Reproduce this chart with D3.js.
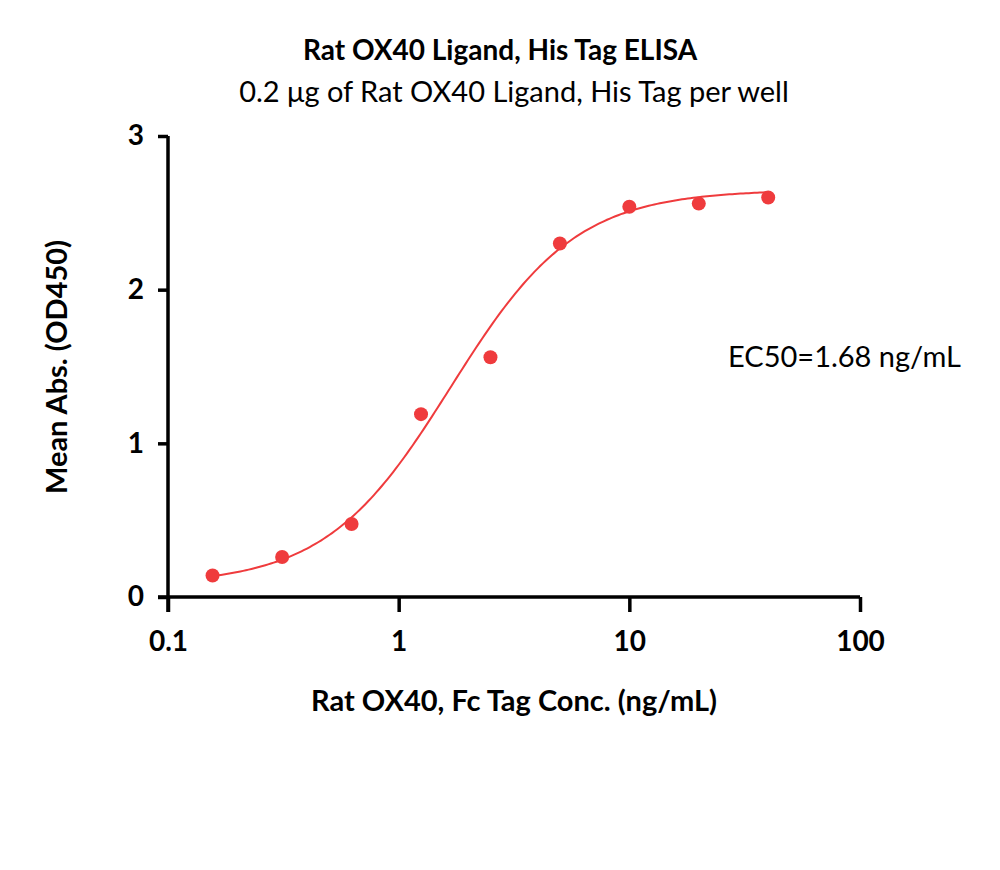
<!DOCTYPE html>
<html>
<head>
<meta charset="utf-8">
<script src="https://cdn.jsdelivr.net/npm/d3@7"></script>
<style>
  body { margin: 0; background: #fff; }
  svg text { font-family: Lato, "Open Sans", sans-serif; fill: #000; }
</style>
</head>
<body>
<div id="chart"></div>
<script>
// data
const conc = [0.156, 0.3125, 0.625, 1.25, 2.5, 5, 10, 20, 40];
const absorbance = [0.14, 0.26, 0.475, 1.19, 1.56, 2.30, 2.54, 2.56, 2.60];
const xTicks = [0.1, 1, 10, 100];
const yTicks = [0, 1, 2, 3];

// 4PL fit parameters
const fitBottom = 0.08;
const fitTop = 2.65;
const ec50 = 1.68;
const hill = 1.6;

const width = 1000, height = 870;
const red = "#ef3b3d";

const svg = d3.select("#chart").append("svg")
    .attr("width", width)
    .attr("height", height);

const x = d3.scaleLog().domain([0.1, 100]).range([168, 860]);
const y = d3.scaleLinear().domain([0, 3]).range([597, 136]);

// titles
svg.append("text").attr("x", 500).attr("y", 60).attr("text-anchor", "middle")
    .attr("font-size", 28).attr("font-weight", "bold").text("Rat OX40 Ligand, His Tag ELISA");
svg.append("text").attr("x", 514).attr("y", 102).attr("text-anchor", "middle")
    .attr("font-size", 29).text("0.2 μg of Rat OX40 Ligand, His Tag per well");

// y axis
const yAxis = d3.axisLeft(y).tickValues(yTicks).tickSize(10).tickPadding(14).tickFormat(d3.format("d"));
const yG = svg.append("g").attr("transform", "translate(168,0)").call(yAxis);
yG.select(".domain").attr("d", "M0,136V612");

// x axis
const xAxis = d3.axisBottom(x).tickValues(xTicks).tickSize(15).tickPadding(19).tickFormat(d => String(d));
const xG = svg.append("g").attr("transform", "translate(0,597)").call(xAxis);
xG.select(".domain").attr("d", "M158,0H860");

[yG, xG].forEach(g => {
    g.selectAll(".domain, line").attr("stroke", "#000").attr("stroke-width", 3.5);
    g.selectAll("text").attr("font-size", 28).attr("font-weight", "bold")
        .attr("font-family", "Lato, 'Open Sans', sans-serif").attr("fill", "#000");
});

// axis labels
svg.append("text").attr("x", 514).attr("y", 711).attr("text-anchor", "middle")
    .attr("font-size", 29).attr("font-weight", "bold").text("Rat OX40, Fc Tag Conc. (ng/mL)");
svg.append("text").attr("transform", "translate(67,367) rotate(-90)").attr("text-anchor", "middle")
    .attr("font-size", 29).attr("font-weight", "bold").text("Mean Abs. (OD450)");

// fitted curve
const fit = c => fitBottom + (fitTop - fitBottom) / (1 + Math.pow(ec50 / c, hill));
const curveX = d3.range(0, 201).map(i => conc[0] * Math.pow(conc[conc.length - 1] / conc[0], i / 200));
const line = d3.line().x(d => x(d)).y(d => y(fit(d)));
svg.append("path").datum(curveX).attr("d", line)
    .attr("fill", "none").attr("stroke", red).attr("stroke-width", 2);

// points
svg.append("g").selectAll("circle").data(conc).join("circle")
    .attr("cx", d => x(d))
    .attr("cy", (d, i) => y(absorbance[i]))
    .attr("r", 7)
    .attr("fill", red);

svg.append("text").attr("x", 728).attr("y", 367)
    .attr("font-size", 29).text("EC50=1.68 ng/mL");
</script>
</body>
</html>
